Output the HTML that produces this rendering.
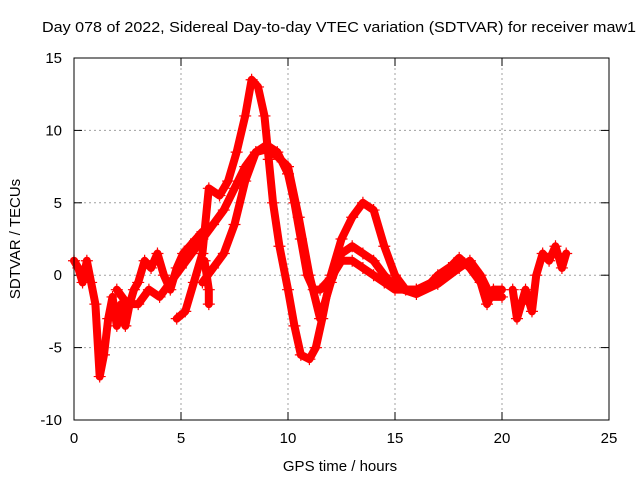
<!DOCTYPE html>
<html><head><meta charset="utf-8"><style>
body{margin:0;background:#fff;}
svg{display:block;font-family:"Liberation Sans",sans-serif;font-size:15px;}
</style></head><body>
<svg id="chart" width="640" height="480" viewBox="0 0 640 480">
<rect width="640" height="480" fill="#fff"/>
<text x="42" y="32" textLength="594" lengthAdjust="spacingAndGlyphs">Day 078 of 2022, Sidereal Day-to-day VTEC variation (SDTVAR) for receiver maw1</text>
<text x="340" y="471" text-anchor="middle">GPS time / hours</text>
<text transform="translate(20,239) rotate(-90)" text-anchor="middle">SDTVAR / TECUs</text>
<g id="grid"></g>
<g id="ticks"></g>
<g id="series"></g>
<rect x="74" y="58" width="535" height="362" fill="none" stroke="#000" stroke-width="1"/>
</svg>
<script>
const xTicks=[0,5,10,15,20,25];
const yTicks=[-10,-5,0,5,10,15];
const track1X=[0,0.2,0.4,0.6,0.8,1.0,1.2,1.4,1.6,1.8,2.0,2.2,2.4,2.6,2.8,3.0,3.3,3.6,3.9,4.2,4.5,4.8,5.1,5.4,5.7,6.0];
const track1Y=[1,0.5,-0.5,1,-0.5,-2,-7,-5.5,-3,-1.5,-3.5,-2,-3.5,-2,-1,-0.5,1,0.5,1.5,0,-1,0.5,1.5,2,2.5,3];
const track2X=[2.0,2.5,3.0,3.5,4.0,4.5,5.0,5.5,6.0,6.5,7.0,7.5,8.0,8.5,9.0,9.5,10.0,10.3,10.6,10.9,11.2,11.5,12.0,12.5,13.0,13.5,14.0,14.5,15.0,16.0,17.0,18.0,18.5,19.0,19.3,19.6,20.0];
const track2Y=[-1,-2,-2,-1,-1.5,-0.5,0.5,1.5,2.5,3.5,4.5,6,7.5,8.5,9,8.5,7,5,2.5,0,-1,-1,-0.2,1,1,0.5,0,-0.5,-1,-1,-0.3,1.2,0.5,-0.5,-2,-1,-1];
const track3X=[4.8,5.2,5.6,6.0,6.3,6.8,7.2,7.6,8.0,8.3,8.6,8.9,9.1,9.3,9.6,10.0,10.3,10.6,11.0,11.3,11.6,12.0,12.5,13.0,13.5,14.0,14.5,15.0,15.5,16.0,16.5,17.0,17.5,18.0];
const track3Y=[-3,-2.5,-0.5,1.5,6,5.5,6.5,8.5,11,13.5,13,11,8,5,2,-1,-3.5,-5.5,-5.8,-5,-3,0,2.5,4,5,4.5,2,0,-1,-1,-0.8,0,0.5,0.8];
const track4X=[6.0,6.5,7.0,7.5,8.0,8.5,9.0,9.5,10.0,10.5,11.0,11.5,12.0,12.5,13.0,13.5,14.0,14.5,15.0,16.0,17.0,18.0,18.5,19.0,19.5,20.0];
const track4Y=[-0.5,0.5,1.5,3.5,6.5,8.5,8.7,8.2,7.5,4,0,-3,-0.5,1.5,2,1.5,1,0,-0.8,-1.3,-0.6,0.5,1,0,-1.5,-1.5];
const track5X=[20.5,20.7,20.9,21.1,21.4,21.6,21.9,22.2,22.5,22.8,23.0];
const track5Y=[-1,-3,-2,-1,-2.5,0,1.5,1,2,0.5,1.5];
const spikeX=[6.1,6.3,6.3];
const spikeY=[1,-1,-2];
const tracks=[[track1X,track1Y],[track2X,track2Y],[track3X,track3Y],[track4X,track4Y],[track5X,track5Y],[spikeX,spikeY]];
const NS='http://www.w3.org/2000/svg';
const xs=v=>74+v*(535/25);
const ys=v=>420-(v+10)*(362/25);
const grid=document.getElementById('grid'),ticks=document.getElementById('ticks'),series=document.getElementById('series');
function mk(t,a,p){const e=document.createElementNS(NS,t);for(const k in a)e.setAttribute(k,a[k]);p.appendChild(e);return e;}
xTicks.forEach(v=>{
  if(v>0&&v<25){const g=mk('line',{x1:xs(v),x2:xs(v),y1:58,y2:420,stroke:'#a0a0a0','stroke-dasharray':'2,3'},grid);
  
  }
  mk('line',{x1:xs(v),x2:xs(v),y1:420,y2:412,stroke:'#000'},ticks);
  mk('line',{x1:xs(v),x2:xs(v),y1:58,y2:66,stroke:'#000'},ticks);
  const t=mk('text',{x:xs(v),y:443,'text-anchor':'middle'},ticks);t.textContent=v;
  
  
});
yTicks.forEach(v=>{
  if(v>-10&&v<15){const g=mk('line',{x1:74,x2:609,y1:ys(v),y2:ys(v),stroke:'#a0a0a0','stroke-dasharray':'2,3'},grid);
  
  }
  mk('line',{x1:74,x2:82,y1:ys(v),y2:ys(v),stroke:'#000'},ticks);
  mk('line',{x1:609,x2:601,y1:ys(v),y2:ys(v),stroke:'#000'},ticks);
  const t=mk('text',{x:62,y:ys(v)+5,'text-anchor':'end'},ticks);t.textContent=v;
  
  
});
tracks.forEach(([X,Y])=>{
  const pts=X.map((x,i)=>xs(x)+','+ys(Y[i])).join(' ');
  const pl=mk('polyline',{points:pts,fill:'none',stroke:'#ff0000','stroke-width':8,'stroke-linejoin':'round','stroke-linecap':'round'},series);
  
  
  X.forEach((x,i)=>{
    const cx=xs(x),cy=ys(Y[i]);
    const p=mk('path',{d:`M${cx-6},${cy}h12M${cx},${cy-6}v12`,stroke:'#ff0000','stroke-width':1.2},series);
    
    
  });
});
</script>
</body></html>
